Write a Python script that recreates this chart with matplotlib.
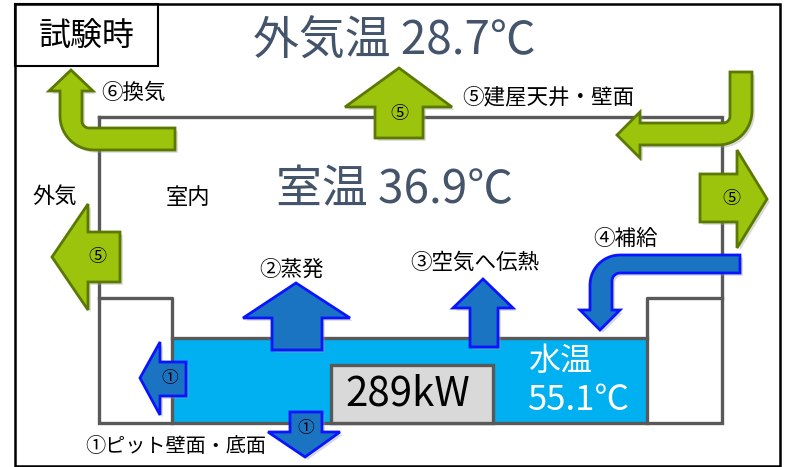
import numpy as np
import matplotlib
matplotlib.use("Agg")
import matplotlib.pyplot as plt
from matplotlib.patches import Polygon, Rectangle
import matplotlib.patheffects as pe

plt.rcParams['font.family'] = ['Noto Sans CJK JP', 'DejaVu Sans']

# ---- data ----
condition_label = "試験時"
outdoor_temp = 28.7
room_temp = 36.9
water_temp = 55.1
heat_kw = 289
flow_labels = ["①ピット壁面・底面", "②蒸発", "③空気へ伝熱", "④補給", "⑤建屋天井・壁面", "⑥換気"]
area_labels = ["外気", "室内"]

W, H = 787, 467
fig = plt.figure(figsize=(W / 100, H / 100), dpi=100)
ax = fig.add_axes([0, 0, 1, 1])
ax.set_xlim(0, W)
ax.set_ylim(H, 0)
ax.axis('off')

GREEN, GREEN_E = '#9CC40C', '#5B7800'
BLUE, BLUE_E = '#1A74C2', '#0A14FF'
WATER = '#00B0F0'
WALL = '#595959'
TEMP_C = '#44546A'

shadow = [pe.SimplePatchShadow(offset=(2, -2), shadow_rgbFace='#a0a0a0', alpha=0.4), pe.Normal()]


def arc(cx, cy, r, a0, a1, n=14):
    a = np.radians(np.linspace(a0, a1, n))
    return list(zip(cx + r * np.cos(a), cy + r * np.sin(a)))


def poly(pts, fc, ec, lw=2.0, z=5, shade=True):
    p = Polygon(pts, closed=True, fc=fc, ec=ec, lw=lw, zorder=z, joinstyle='miter')
    if shade:
        p.set_path_effects(shadow)
    ax.add_patch(p)


# outer frame
ax.add_patch(Rectangle((15, 4), 765, 462, fill=False, ec='black', lw=1.8, zorder=1))
ax.add_patch(Rectangle((15, 4), 143, 62, fill=False, ec='black', lw=1.5, zorder=1))
ax.text(87, 36, condition_label, fontsize=23, ha='center', va='center', color='black')

# water
ax.add_patch(Rectangle((172, 338), 475, 85, fc=WATER, ec='none', zorder=2))
# building outline
lw_wall = 2.4
ax.plot([99, 722, 722, 99, 99], [117, 117, 423, 423, 117], color=WALL, lw=lw_wall, zorder=3, solid_joinstyle='miter')
ax.plot([99, 172, 172], [298, 298, 423], color=WALL, lw=lw_wall, zorder=3)
ax.plot([172, 647], [338, 338], color=WALL, lw=lw_wall, zorder=3)
ax.plot([647, 647, 722], [423, 298, 298], color=WALL, lw=lw_wall, zorder=3)

# power box
ax.add_patch(Rectangle((331, 365), 162, 58, fc='#D9D9D9', ec=WALL, lw=lw_wall, zorder=4))
ax.text(408, 394, f"{heat_kw}kW", fontsize=29, ha='center', va='center', color='black', zorder=6)

# water temp text
ax.text(560, 361, "水温", fontsize=23, ha='center', va='center', color='white', zorder=6)
ax.text(578, 400, f"{water_temp:.1f}℃", fontsize=25, ha='center', va='center', color='white', zorder=6)

# temperatures
ax.text(394, 41, f"外気温 {outdoor_temp:.1f}℃", fontsize=33, ha='center', va='center', color=TEMP_C)
ax.text(395, 190, f"室温 {room_temp:.1f}℃", fontsize=33, ha='center', va='center', color=TEMP_C)

# area labels
ax.text(55, 196, area_labels[0], fontsize=16, ha='center', va='center')
ax.text(188, 197, area_labels[1], fontsize=16, ha='center', va='center')

# ---- green arrows ----
# ⑥ ventilation L arrow
ri, ro = 7, 34
pts = [(71, 70), (93, 91), (82, 91)] + arc(82 + ri, 128 - ri, ri, 180, 90) + \
      [(175, 128), (175, 150)] + arc(60 + ro, 150 - ro, ro, 90, 180) + [(60, 91), (49, 91)]
poly(pts, GREEN, GREEN_E)

# ⑤ up arrow (ceiling)
poly([(399, 68), (452, 107), (423, 107), (423, 138), (375, 138), (375, 107), (345, 107)], GREEN, GREEN_E)
ax.text(399, 114, "⑤", fontsize=13, ha='center', va='center', zorder=7)

# ⑤ top-right L arrow
ri, ro = 7, 34
pts = [(730, 72), (752, 72)] + arc(752 - ro, 145 - ro, ro, 0, 90) + \
      [(640, 145), (640, 158), (617, 135), (640, 112), (640, 123)] + arc(730 - ri, 123 - ri, ri, 90, 0)
poly(pts, GREEN, GREEN_E)

# ⑤ right arrow (wall)
poly([(700, 174), (737, 174), (737, 150), (767, 199), (737, 248), (737, 222), (700, 222)], GREEN, GREEN_E)
ax.text(731, 199, "⑤", fontsize=13, ha='center', va='center', zorder=7)

# ⑤ left arrow (wall)
poly([(120, 232), (120, 282), (88, 282), (88, 310), (52, 257), (88, 204), (88, 232)], GREEN, GREEN_E)
ax.text(97, 257, "⑤", fontsize=13, ha='center', va='center', zorder=7)

# ---- blue arrows ----
# ② evaporation
poly([(296, 283), (350, 318), (322, 318), (322, 350), (272, 350), (272, 318), (243, 318)], BLUE, BLUE_E)
# ③ heat to air
poly([(483, 279), (513, 308), (498, 308), (498, 347), (470, 347), (470, 308), (453, 308)], BLUE, BLUE_E)
# ④ supply L arrow
ri, ro = 8, 30
pts = [(740, 255), (740, 273)] + arc(612 + ri, 273 + ri, ri, 270, 180) + \
      [(612, 310), (620, 310), (600, 330), (580, 310), (590, 310)] + arc(590 + ro, 255 + ro, ro, 180, 270)
poly(pts, BLUE, BLUE_E)
# ① left (pit wall)
poly([(186, 362), (186, 396), (160, 396), (160, 415), (140, 378), (160, 342), (160, 362)], BLUE, BLUE_E)
ax.text(170, 379, "①", fontsize=12, ha='center', va='center', zorder=7)
# ① down (pit bottom)
poly([(290, 412), (322, 412), (322, 432), (340, 432), (305, 457), (268, 432), (290, 432)], BLUE, BLUE_E)
ax.text(306, 428, "①", fontsize=12, ha='center', va='center', zorder=7)

# flow labels
ax.text(176, 446, flow_labels[0], fontsize=14.5, ha='center', va='center')
ax.text(292, 270, flow_labels[1], fontsize=15.5, ha='center', va='center')
ax.text(475, 263, flow_labels[2], fontsize=15.5, ha='center', va='center')
ax.text(626, 239, flow_labels[3], fontsize=15.5, ha='center', va='center')
ax.text(548, 97, flow_labels[4], fontsize=15.5, ha='center', va='center')
ax.text(134, 93, flow_labels[5], fontsize=15.5, ha='center', va='center')

fig.savefig("out.png", dpi=100)
